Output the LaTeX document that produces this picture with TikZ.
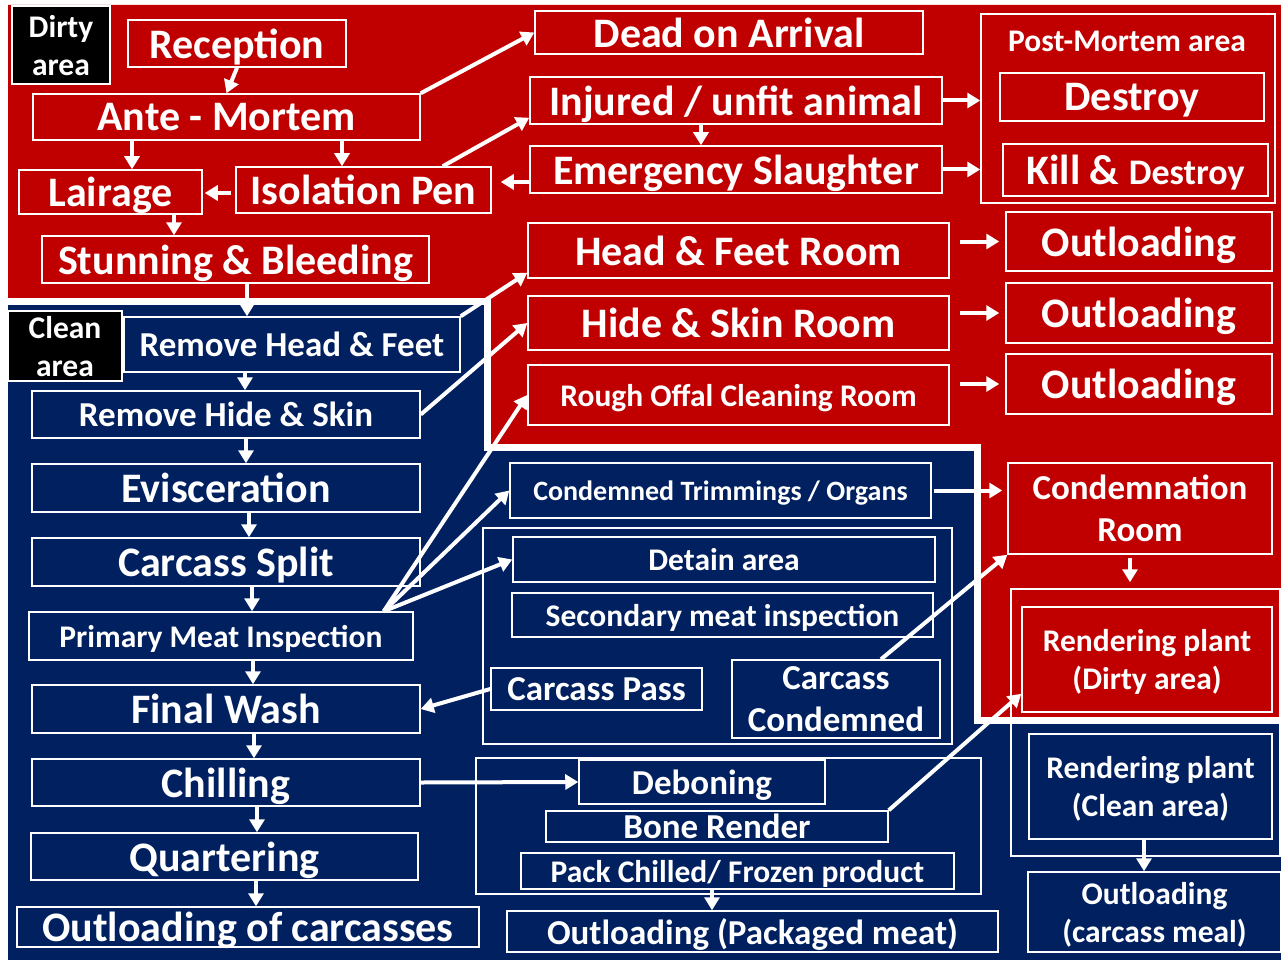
\documentclass[tikz,border=0pt]{standalone}
\usepackage{fontspec}
\setmainfont{Carlito}
\usepackage{tikz}
\usepackage{xcolor}
\usetikzlibrary{arrows.meta}

\definecolor{dirtyred}{HTML}{C00000}
\definecolor{cleanblue}{HTML}{002060}

\begin{document}
\begin{tikzpicture}[x=1pt, y=-1pt,
    box/.style={draw=white, line width=1.5pt, inner sep=0pt, text=white, align=center, text depth=0pt},
    bigtxt/.style={font=\bfseries\fontsize{42}{50}\selectfont},
    midtxt/.style={font=\bfseries\fontsize{35}{42}\selectfont},
    smalltxt/.style={font=\bfseries\fontsize{31.5}{38}\selectfont},
    tinytxt/.style={font=\bfseries\fontsize{28}{34}\selectfont},
    arr/.style={white, line width=4pt, -{Triangle[length=13pt, width=15pt]}}]
    \useasboundingbox (0,0) rectangle (1281,960);
    % the two areas
    \fill[cleanblue] (8,5) rectangle (1281,960);
    \fill[dirtyred] (8,5) -- (1281,5) -- (1281,720) -- (977,720) -- (977,447)
        -- (487,447) -- (487,301) -- (8,301) -- cycle;
    \draw[white, line width=7pt] (8,301) -- (487,301) -- (487,447) -- (977,447)
        -- (977,720) -- (1281,720);

    % dirty area
    \node[box, fill=black, smalltxt, minimum width=98pt, minimum height=78pt] (dirty) at (61,45) {Dirty\\area};
    \node[box, bigtxt, minimum width=218pt, minimum height=47pt] (recep) at (237,43.5) {Reception};
    \node[box, bigtxt, minimum width=387pt, minimum height=46pt] (amort) at (226.5,117) {Ante - Mortem};
    \node[box, bigtxt, minimum width=183pt, minimum height=44pt] (lair) at (110.5,192) {Lairage};
    \node[box, bigtxt, minimum width=255pt, minimum height=46pt] (iso) at (363.5,190) {Isolation Pen};
    \node[box, bigtxt, minimum width=387pt, minimum height=47pt] (stun) at (235.5,259.5) {Stunning \& Bleeding};
    \node[box, bigtxt, minimum width=388pt, minimum height=43pt] (doa) at (729,32.5) {Dead on Arrival};
    \node[box, bigtxt, minimum width=412pt, minimum height=47pt] (inj) at (736,100.5) {Injured / unfit animal};
    \node[box, bigtxt, minimum width=412pt, minimum height=47pt] (emg) at (736,169.5) {Emergency Slaughter};
    \node[box, minimum width=294pt, minimum height=189pt] (pm) at (1128,108.5) {};
    \node[smalltxt, text=white, inner sep=0pt] (pmlabel) at (1127,41) {Post-Mortem area};
    \node[box, bigtxt, minimum width=264pt, minimum height=48pt] (destroy) at (1132,97) {Destroy};
    \node[box, bigtxt, minimum width=265pt, minimum height=52pt] (kill) at (1135.5,170) {Kill \& {\fontsize{36}{42}\selectfont Destroy}};
    \node[box, bigtxt, minimum width=421pt, minimum height=55pt] (hfr) at (738.5,250.5) {Head \& Feet Room};
    \node[box, bigtxt, minimum width=421pt, minimum height=54pt] (hsr) at (738.5,323) {Hide \& Skin Room};
    \node[box, smalltxt, minimum width=421pt, minimum height=60pt] (rough) at (738.5,395) {Rough Offal Cleaning Room};
    \node[box, bigtxt, minimum width=266pt, minimum height=59pt] (out1) at (1139,241.5) {Outloading};
    \node[box, bigtxt, minimum width=266pt, minimum height=60pt] (out2) at (1139,313) {Outloading};
    \node[box, bigtxt, minimum width=266pt, minimum height=60pt] (out3) at (1139,384) {Outloading};
    \node[box, midtxt, minimum width=264pt, minimum height=91pt] (condr) at (1140,508.5) {Condemnation\\Room};
    \node[box, minimum width=269pt, minimum height=267pt] (rgroup) at (1145.5,722.5) {};
    \node[box, smalltxt, minimum width=250pt, minimum height=105pt] (rdirty) at (1147,659.5) {Rendering plant\\(Dirty area)};

    % clean area
    \node[box, fill=black, smalltxt, minimum width=114pt, minimum height=70pt] (clean) at (65,346) {Clean\\area};
    \node[box, midtxt, minimum width=336pt, minimum height=55pt] (rhf) at (292,344.5) {Remove Head \& Feet};
    \node[box, midtxt, minimum width=388pt, minimum height=47pt] (rhs) at (226,414.5) {Remove Hide \& Skin};
    \node[box, bigtxt, minimum width=388pt, minimum height=48pt] (evis) at (226,488) {Evisceration};
    \node[box, bigtxt, minimum width=388pt, minimum height=48pt] (split) at (226,562) {Carcass Split};
    \node[box, smalltxt, minimum width=384pt, minimum height=48pt] (pmi) at (221,636) {Primary Meat Inspection};
    \node[box, bigtxt, minimum width=388pt, minimum height=48pt] (fwash) at (226,709) {Final Wash};
    \node[box, bigtxt, minimum width=388pt, minimum height=47pt] (chill) at (226,782.5) {Chilling};
    \node[box, bigtxt, minimum width=387pt, minimum height=47pt] (quart) at (224.5,856.5) {Quartering};
    \node[box, bigtxt, minimum width=462pt, minimum height=40pt] (outc) at (248,927) {Outloading of carcasses};
    \node[box, tinytxt, minimum width=421pt, minimum height=55pt] (ctrim) at (720.5,490.5) {Condemned Trimmings / Organs};
    \node[box, minimum width=469pt, minimum height=216pt] (sgroup) at (717.5,636) {};
    \node[box, smalltxt, minimum width=422pt, minimum height=45pt] (detain) at (724,559.5) {Detain area};
    \node[box, smalltxt, minimum width=421pt, minimum height=44pt] (smi) at (722.5,615) {Secondary meat inspection};
    \node[box, midtxt, minimum width=211pt, minimum height=42pt] (cpass) at (596.5,689) {Carcass Pass};
    \node[box, midtxt, minimum width=208pt, minimum height=78pt] (ccond) at (836,699) {Carcass\\Condemned};
    \node[box, minimum width=505pt, minimum height=136pt] (dgroup) at (728.5,826) {};
    \node[box, midtxt, minimum width=246pt, minimum height=44pt] (debone) at (702,782) {Deboning};
    \node[box, midtxt, minimum width=342pt, minimum height=31pt] (bone) at (717,826.5) {Bone Render};
    \node[box, smalltxt, minimum width=433pt, minimum height=36pt] (pack) at (737.5,871) {Pack Chilled/ Frozen product};
    \node[box, midtxt, minimum width=491pt, minimum height=41pt] (outpk) at (752.5,931.5) {Outloading (Packaged meat)};
    \node[box, smalltxt, minimum width=243pt, minimum height=105pt] (rclean) at (1150.5,786.5) {Rendering plant\\(Clean area)};
    \node[box, smalltxt, minimum width=253pt, minimum height=80pt] (outmeal) at (1154.5,912) {Outloading\\(carcass meal)};

    % arrows, dirty side
    \draw[arr] (recep.south) -- (amort.north);
    \draw[arr] (132,0 |- amort.south) -- (132,0 |- lair.north);
    \draw[arr] (342,0 |- amort.south) -- (342,0 |- iso.north);
    \draw[arr, shorten <=4pt, shorten >=2pt] (0,193 -| iso.west) -- (0,193 -| lair.east);
    \draw[arr] (174,0 |- lair.south) -- (174,0 |- stun.north);
    \draw[arr] (247,0 |- stun.south) -- (247,0 |- rhf.north);
    \draw[arr] (amort.north east) -- (doa.west);
    \draw[arr] ([xshift=-49pt]iso.north east) -- ([yshift=7pt]inj.south west);
    \draw[arr] (701,0 |- inj.south) -- (701,0 |- emg.north);
    \draw[arr, shorten >=9pt] (0,182 -| emg.west) -- (0,182 -| iso.east);
    \draw[arr] (inj.east) -- (inj.east -| pm.west);
    \draw[arr] (emg.east) -- (emg.east -| pm.west);
    \draw[arr] (rhf.north east) -- ([yshift=6pt]hfr.south west);
    \draw[arr] (rhs.east) -- (hsr.west);
    \draw[arr] ([xshift=-30pt]pmi.north east) -- (rough.west);
    \draw[arr, shorten <=10pt, shorten >=6pt] (hfr.east |- out1.west) -- (out1.west);
    \draw[arr, shorten <=10pt, shorten >=6pt] (hsr.east |- out2.west) -- (out2.west);
    \draw[arr, shorten <=10pt, shorten >=6pt] (rough.east |- out3.west) -- (out3.west);

    % arrows, clean side
    \draw[arr] (245,0 |- rhf.south) -- (245,0 |- rhs.north);
    \draw[arr] (246,0 |- rhs.south) -- (246,0 |- evis.north);
    \draw[arr] (249,0 |- evis.south) -- (249,0 |- split.north);
    \draw[arr] (252,0 |- split.south) -- (252,0 |- pmi.north);
    \draw[arr] (253,0 |- pmi.south) -- (253,0 |- fwash.north);
    \draw[arr] (254,0 |- fwash.south) -- (254,0 |- chill.north);
    \draw[arr] (257,0 |- chill.south) -- (257,0 |- quart.north);
    \draw[arr] (256,0 |- quart.south) -- (256,0 |- outc.north);
    \draw[arr] ([xshift=-30pt]pmi.north east) -- (ctrim.west);
    \draw[arr] ([xshift=-30pt]pmi.north east) -- (detain.west);
    \draw[arr] (cpass.west) -- (fwash.east);
    \draw[arr] ([xshift=45pt]ccond.north) -- (condr.south west);
    \draw[arr, shorten <=2pt, shorten >=5pt] (ctrim.east) -- (ctrim.east -| condr.west);
    \draw[arr, shorten <=3pt, shorten >=6pt] (1130,0 |- condr.south) -- (1130,0 |- rgroup.north);
    \draw[arr] (chill.east) -- (debone.west);
    \draw[arr] (bone.north east) -- ([yshift=19pt]rdirty.south west);
    \draw[arr] (712,0 |- pack.south) -- (712,0 |- outpk.north);
    \draw[arr] (1144,0 |- rclean.south) -- (1144,0 |- outmeal.north);
\end{tikzpicture}
\end{document}
